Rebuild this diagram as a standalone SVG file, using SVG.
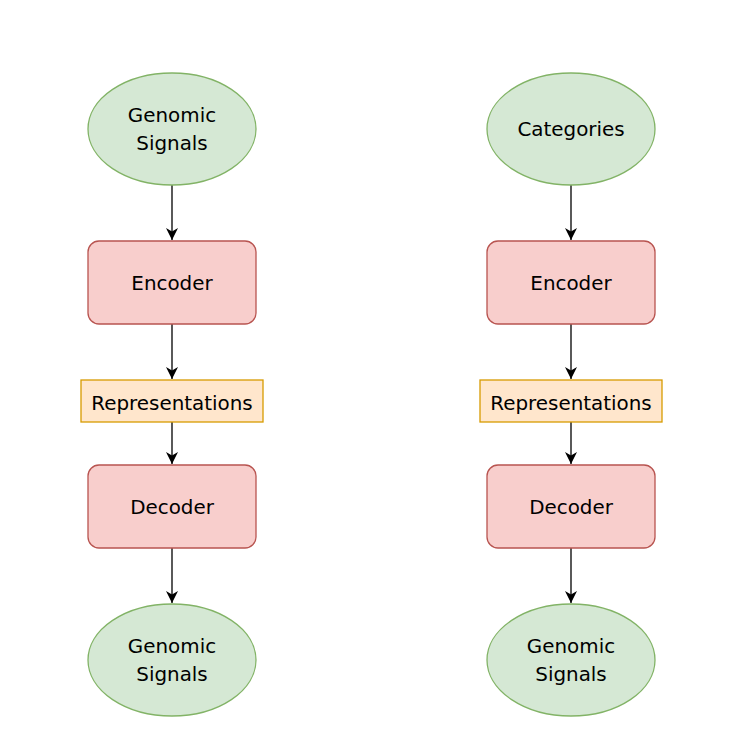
<svg xmlns="http://www.w3.org/2000/svg" width="737" height="746" viewBox="0 0 737 746">
<style>
.g{fill:#d5e8d4;stroke:#82b366;stroke-width:1.3}
.r{fill:#f8cecc;stroke:#b85450;stroke-width:1.3}
.o{fill:#ffe6cc;stroke:#d79b00;stroke-width:1.3}
text{font-family:"DejaVu Sans",sans-serif;font-size:19.9px;fill:#000;text-anchor:middle}
.e{fill:none;stroke:#000;stroke-width:1.3}
</style>
<defs>
<marker id="a" markerUnits="userSpaceOnUse" markerWidth="16" markerHeight="16" refX="13" refY="8" orient="auto" viewBox="0 0 16 16">
<path d="M1,2 L13,8 L1,14 L4.5,8 Z" fill="#000"/>
</marker>
</defs>
<rect width="737" height="746" fill="#fff"/>
<g id="connectors">
<line class="e" x1="172" y1="185" x2="172" y2="240" marker-end="url(#a)"/>
<line class="e" x1="172" y1="324" x2="172" y2="379" marker-end="url(#a)"/>
<line class="e" x1="172" y1="422" x2="172" y2="464" marker-end="url(#a)"/>
<line class="e" x1="172" y1="548" x2="172" y2="603" marker-end="url(#a)"/>
<line class="e" x1="571" y1="185" x2="571" y2="240" marker-end="url(#a)"/>
<line class="e" x1="571" y1="324" x2="571" y2="379" marker-end="url(#a)"/>
<line class="e" x1="571" y1="422" x2="571" y2="464" marker-end="url(#a)"/>
<line class="e" x1="571" y1="548" x2="571" y2="603" marker-end="url(#a)"/>
</g>
<g id="left-input"><ellipse class="g" cx="172" cy="129" rx="84" ry="56"/><text x="172" y="122">Genomic</text><text x="172" y="150">Signals</text></g>
<g id="left-encoder"><rect class="r" x="88" y="241" width="168" height="83" rx="11"/><text x="172" y="290">Encoder</text></g>
<g id="left-repr"><rect class="o" x="81" y="380" width="182" height="42"/><text x="172" y="409.5">Representations</text></g>
<g id="left-decoder"><rect class="r" x="88" y="465" width="168" height="83" rx="11"/><text x="172" y="514">Decoder</text></g>
<g id="left-output"><ellipse class="g" cx="172" cy="660" rx="84" ry="56"/><text x="172" y="653">Genomic</text><text x="172" y="681">Signals</text></g>
<g id="right-input"><ellipse class="g" cx="571" cy="129" rx="84" ry="56"/><text x="571" y="136">Categories</text></g>
<g id="right-encoder"><rect class="r" x="487" y="241" width="168" height="83" rx="11"/><text x="571" y="290">Encoder</text></g>
<g id="right-repr"><rect class="o" x="480" y="380" width="182" height="42"/><text x="571" y="409.5">Representations</text></g>
<g id="right-decoder"><rect class="r" x="487" y="465" width="168" height="83" rx="11"/><text x="571" y="514">Decoder</text></g>
<g id="right-output"><ellipse class="g" cx="571" cy="660" rx="84" ry="56"/><text x="571" y="653">Genomic</text><text x="571" y="681">Signals</text></g>
</svg>
